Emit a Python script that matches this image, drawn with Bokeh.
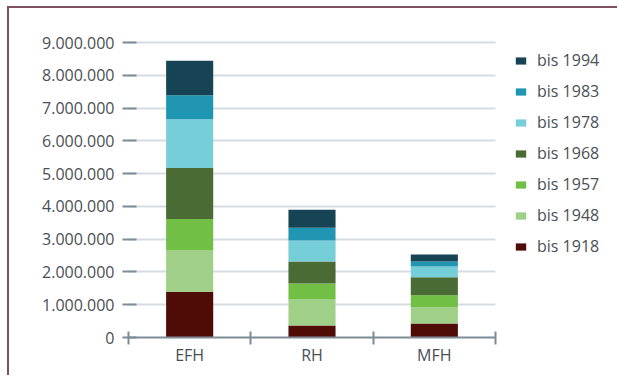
from bokeh.plotting import figure
from bokeh.models import (ColumnDataSource, FixedTicker, Range1d, Legend, LegendItem,
                          CustomJSTickFormatter)
from bokeh.embed import file_html
from bokeh.resources import INLINE

categories = ["EFH", "RH", "MFH"]
periods = ["bis 1918", "bis 1948", "bis 1957", "bis 1968", "bis 1978", "bis 1983", "bis 1994"]
bis_1918 = [1400000, 370000, 430000]
bis_1948 = [1270000, 790000, 490000]
bis_1957 = [950000, 490000, 370000]
bis_1968 = [1550000, 670000, 550000]
bis_1978 = [1490000, 640000, 330000]
bis_1983 = [730000, 390000, 150000]
bis_1994 = [1060000, 550000, 210000]
y_ticks = [0, 1000000, 2000000, 3000000, 4000000, 5000000, 6000000, 7000000, 8000000, 9000000]

colors = ["#4f0c06", "#a0cf88", "#72bf45", "#4a6b34", "#76ced9", "#2196b2", "#174455"]
series = [bis_1918, bis_1948, bis_1957, bis_1968, bis_1978, bis_1983, bis_1994]

n = len(categories)
xpos = [i + 0.5 for i in range(n)]
data = {"x": xpos}
for name, vals in zip(periods, series):
    data[name] = vals
src = ColumnDataSource(data)

FONT = "Open Sans"
TXT = "#4a4f55"
AX = "#7d8c95"
GRID = "#d5dde3"

W = 610
LEFT = 119
RIGHT = 4
FRAME_W = W - LEFT - RIGHT
CAT_PX = 367 / 3.0          # pixel width of one category slot
x_end = FRAME_W / CAT_PX    # extra room on the right for the legend

p = figure(width=W, height=369, output_backend="svg", toolbar_location=None,
           x_range=Range1d(0, x_end), y_range=Range1d(0, 9400000),
           min_border_left=LEFT, min_border_right=RIGHT, min_border_top=21,
           min_border_bottom=40, outline_line_color=None)
p.margin = (6, 0, 0, 7)
p.styles = {"border-top": "2px solid #7d5063", "border-left": "2px solid #7d5063"}

renderers = p.vbar_stack(periods, x="x", width=0.385, color=colors, source=src,
                         line_color=None)

# x axis
xa = p.xaxis[0]
xa.bounds = (0, n)
xa.ticker = FixedTicker(ticks=xpos, minor_ticks=list(range(n + 1)))
xa.major_label_overrides = {x: c for x, c in zip(xpos, categories)}
xa.major_tick_line_color = None
xa.major_tick_out = 0
xa.major_tick_in = 0
xa.minor_tick_line_color = AX
xa.minor_tick_line_width = 2
xa.minor_tick_in = 6
xa.minor_tick_out = 7
xa.axis_line_color = AX
xa.axis_line_width = 2
xa.major_label_text_font = FONT
xa.major_label_text_font_size = "16px"
xa.major_label_text_color = TXT
xa.major_label_standoff = -1

ya = p.yaxis[0]
ya.ticker = FixedTicker(ticks=y_ticks)
ya.formatter = CustomJSTickFormatter(code="""
return Math.round(tick).toString().replace(/\\B(?=(\\d{3})+(?!\\d))/g, '.');
""")
ya.axis_line_color = None
ya.major_tick_line_color = AX
ya.major_tick_line_width = 2
ya.major_tick_in = 8
ya.major_tick_out = 6
ya.minor_tick_line_color = None
ya.major_label_text_font = FONT
ya.major_label_text_font_size = "16px"
ya.major_label_text_color = TXT
ya.major_label_standoff = 8

p.xgrid.grid_line_color = None
try:
    p.ygrid.cross_bounds = (0, n)
    p.ygrid.grid_line_color = GRID
    p.ygrid.grid_line_width = 2
    p.ygrid.level = "underlay"
except AttributeError:
    p.ygrid.grid_line_color = None
    gsrc = ColumnDataSource({"y": y_ticks[1:], "x0": [0] * (len(y_ticks) - 1),
                             "x1": [n] * (len(y_ticks) - 1)})
    p.segment(x0="x0", x1="x1", y0="y", y1="y", source=gsrc,
              line_color=GRID, line_width=2, level="underlay")

items = [LegendItem(label=name, renderers=[r]) for name, r in zip(periods, renderers)]
items.reverse()
legend = Legend(items=items, location=(386, 80), orientation="vertical",
                glyph_width=13, glyph_height=9, label_standoff=10,
                label_text_font=FONT, label_text_font_size="16px",
                label_text_color=TXT, label_height=22, spacing=9,
                padding=8, margin=0, border_line_color=None,
                background_fill_alpha=0)
p.add_layout(legend)

open("out.html", "w").write(file_html(p, INLINE))
